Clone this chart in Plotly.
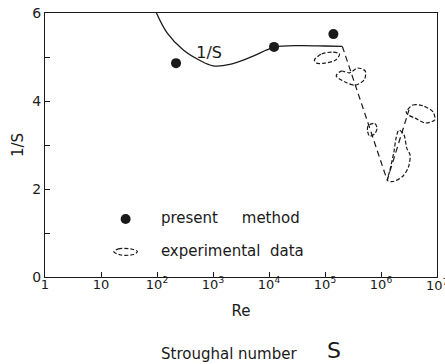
import plotly.graph_objects as go

# ---- data (log10 Re, 1/S) ----
curve_logRe = [1.99, 2.18, 2.47, 2.77, 3.00, 3.30, 3.66, 3.96, 4.10, 4.55, 5.00, 5.31]
curve_invS  = [6.00, 5.55, 5.16, 4.92, 4.80, 4.83, 4.99, 5.16, 5.23, 5.26, 5.25, 5.24]

present_logRe = [2.34, 4.09, 5.15]
present_invS  = [4.86, 5.23, 5.52]

trend_logRe = [5.31, 6.11, 6.50]
trend_invS  = [5.24, 2.20, 3.80]

# experimental data regions (closed loops)
exp1_logRe = [4.81, 4.94, 5.13, 5.26, 5.19, 4.99, 4.85]
exp1_invS  = [4.93, 5.07, 5.11, 5.07, 4.93, 4.86, 4.86]
exp2_logRe = [5.20, 5.29, 5.44, 5.58, 5.72, 5.70, 5.54, 5.36]
exp2_invS  = [4.57, 4.68, 4.64, 4.75, 4.68, 4.48, 4.36, 4.43]
exp3_logRe = [5.77, 5.89, 5.93, 5.89, 5.80, 5.76]
exp3_invS  = [3.44, 3.49, 3.38, 3.26, 3.20, 3.31]
exp4_logRe = [6.32, 6.41, 6.46, 6.52, 6.49, 6.39, 6.22, 6.12, 6.16, 6.23, 6.27]
exp4_invS  = [3.34, 3.23, 2.93, 2.77, 2.50, 2.29, 2.17, 2.19, 2.43, 2.84, 3.16]
exp5_logRe = [6.45, 6.57, 6.75, 6.93, 6.96, 6.79, 6.61, 6.49]
exp5_invS  = [3.75, 3.91, 3.89, 3.75, 3.57, 3.50, 3.61, 3.68]

# legend samples
leg_dot_logRe = [1.44]
leg_dot_invS  = [1.32]
leg_loop_logRe = [1.23, 1.31, 1.53, 1.65, 1.58, 1.35]
leg_loop_invS  = [0.57, 0.64, 0.64, 0.58, 0.51, 0.50]
leg_text_logRe = [2.07, 2.07]
leg_text_invS  = [1.32, 0.57]
leg_labels = ["present" + "\u00a0" * 5 + "method", "experimental" + "\u00a0" * 2 + "data"]

curve_label_logRe = [2.93]
curve_label_invS = [5.07]
curve_label = ["1/S"]

x_tickvals = [1, 10, 1e2, 1e3, 1e4, 1e5, 1e6, 1e7]
x_ticktext = ["1", "10", "10<sup>2</sup>", "10<sup>3</sup>", "10<sup>4</sup>",
              "10<sup>5</sup>", "10<sup>6</sup>", ""]
last_tick_text = "10<sup>7</sup>"
y_tickvals = [0, 1, 2, 3, 4, 5, 6]
y_ticktext = ["0", "", "2", "", "4", "", "6"]

INK = "#1a1a1a"
FONT = "DejaVu Sans"

def X(l):
    return [10 ** v for v in l]

fig = go.Figure()

fig.add_trace(go.Scatter(x=X(curve_logRe), y=curve_invS, mode="lines",
                         line=dict(color=INK, width=1.3, shape="spline"),
                         showlegend=False))
fig.add_trace(go.Scatter(x=X(trend_logRe), y=trend_invS, mode="lines",
                         line=dict(color=INK, width=1.2, dash="6px,4px"),
                         showlegend=False))

for lx, ly in [(exp1_logRe, exp1_invS), (exp2_logRe, exp2_invS), (exp3_logRe, exp3_invS),
               (exp4_logRe, exp4_invS), (exp5_logRe, exp5_invS), (leg_loop_logRe, leg_loop_invS)]:
    fig.add_trace(go.Scatter(x=X(lx + lx[:1]), y=ly + ly[:1], mode="lines",
                             line=dict(color=INK, width=1.2, dash="4px,2px", shape="spline",
                                       smoothing=0.8),
                             showlegend=False))

fig.add_trace(go.Scatter(x=X(present_logRe), y=present_invS, mode="markers",
                         marker=dict(color=INK, size=10), showlegend=False))
fig.add_trace(go.Scatter(x=X(leg_dot_logRe), y=leg_dot_invS, mode="markers",
                         marker=dict(color=INK, size=10), showlegend=False))

fig.add_trace(go.Scatter(x=X(leg_text_logRe), y=leg_text_invS, mode="text",
                         text=leg_labels, textposition="middle right",
                         textfont=dict(family=FONT, size=15, color=INK),
                         showlegend=False))
fig.add_trace(go.Scatter(x=X(curve_label_logRe), y=curve_label_invS, mode="text",
                         text=curve_label, textposition="middle center",
                         textfont=dict(family=FONT, size=16, color=INK),
                         showlegend=False))

fig.update_layout(
    width=445, height=364,
    margin=dict(l=45, r=8, t=13, b=87),
    paper_bgcolor="white", plot_bgcolor="white",
    font=dict(family=FONT, size=12, color=INK),
    xaxis=dict(type="log", range=[0, 7], tickvals=x_tickvals, ticktext=x_ticktext,
               ticks="inside", ticklen=5, tickcolor=INK, showgrid=False, zeroline=False,
               showline=True, linecolor=INK, linewidth=1.2, mirror=True,
               tickfont=dict(family=FONT, size=13), ticklabelstandoff=-5,
               automargin=False,
               title=dict(text="Re", font=dict(family=FONT, size=15), standoff=14)),
    yaxis=dict(range=[0, 6], tickvals=y_tickvals, ticktext=y_ticktext,
               ticks="inside", ticklen=5, tickcolor=INK, showgrid=False, zeroline=False,
               showline=True, linecolor=INK, linewidth=1.2, mirror=True,
               tickfont=dict(family=FONT, size=14), automargin=False,
               title=dict(text="1/S", font=dict(family=FONT, size=15), standoff=4)),
    annotations=[
        dict(text=last_tick_text, xref="x", yref="paper", x=7, y=0,
             xanchor="center", yanchor="top", yshift=2, showarrow=False,
             font=dict(family=FONT, size=13, color=INK)),
        dict(text="Stroughal number", xref="paper", yref="paper", x=0.29, y=-0.29,
             xanchor="left", yanchor="middle", showarrow=False,
             font=dict(family=FONT, size=15, color=INK)),
        dict(text="S", xref="paper", yref="paper", x=0.736, y=-0.28,
             xanchor="center", yanchor="middle", showarrow=False,
             font=dict(family=FONT, size=22, color=INK)),
    ],
)

fig.write_html("out.html")
